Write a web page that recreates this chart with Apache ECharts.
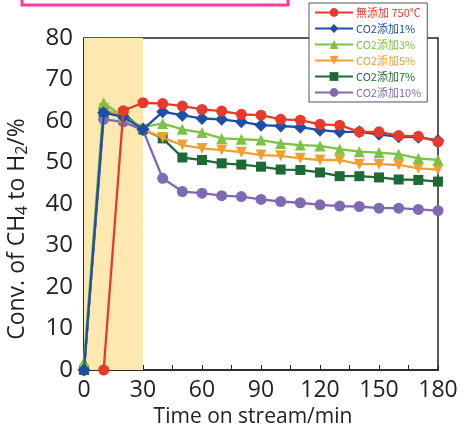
<!DOCTYPE html>
<html><head><meta charset="utf-8">
<script src="https://cdn.jsdelivr.net/npm/echarts@6/dist/echarts.min.js"></script>
<style>html,body{margin:0;padding:0;background:#fff}#c{width:464px;height:425px}</style>
</head><body><div id="c"></div>
<script>
const times = [0,10,20,30,40,50,60,70,80,90,100,110,120,130,140,150,160,170,180];
const seriesNames = ['無添加 750℃','CO2添加1%','CO2添加3%','CO2添加5%','CO2添加7%','CO2添加10%'];
const noAdd750 = [null,0,62.5,64.4,64.2,63.6,62.8,62.4,61.6,61.4,60.4,60.2,59.2,59.0,57.4,57.4,56.5,56.3,55.0];
const co2_1 = [0,62,61,58,62.2,61.4,60.6,60.4,59.8,59.0,58.8,58.5,57.8,57.4,57.4,56.8,56.2,56.1,55.3];
const co2_3 = [2,64.4,61,58.5,59.4,58,57.2,55.8,55.6,55.4,54.6,54.2,54.0,53.2,52.6,52.4,52.0,51.0,50.6];
const co2_5 = [0,63,61,58,56,54.2,53.4,53,52.5,51.8,51.6,51.0,50.6,50.6,49.6,49.6,49.4,48.6,48.3];
const co2_7 = [0,62.2,61.8,58,55.8,51.2,50.6,49.8,49.5,49.0,48.3,48.2,47.6,46.7,46.7,46.4,45.9,45.8,45.4];
const co2_10 = [0,60.4,59.8,57.8,46.2,43.0,42.6,42.0,41.8,41.1,40.6,40.3,39.8,39.5,39.4,39.0,39.0,38.7,38.4];
const shadeRange = [0,30];
const xTicks = [0,30,60,90,120,150,180];
const yTicks = [0,10,20,30,40,50,60,70,80];

const colors = ['#e63a2c','#1d4fa6','#7cc243','#f0a032','#1d6a36','#7d6ab3'];
const symbols = ['circle','diamond','triangle','path://M0,0 L10,0 L5,10 Z','rect','circle'];
const allData = [noAdd750,co2_1,co2_3,co2_5,co2_7,co2_10];
const font = '"Open Sans", "Noto Sans", sans-serif';

const series = allData.map((d,i)=>({
  name: seriesNames[i], type:'line',
  data: times.map((t,j)=>[t,d[j]]),
  symbol: symbols[i], symbolSize: i===1?13:(i===4?10:11),
  lineStyle:{color:colors[i],width:2.3},
  itemStyle:{color:colors[i]},
  z: 10-i
}));
series[0].markArea = {silent:true, itemStyle:{color:'#fde8b0'}, data:[[{xAxis:shadeRange[0]},{xAxis:shadeRange[1]}]]};
series[0].z = 12;

const chart = echarts.init(document.getElementById('c'));
chart.setOption({
  animation:false,
  grid:{left:84,right:26,top:38,bottom:55,show:true,borderColor:'#222',borderWidth:1.5,outerBoundsMode:'none',containLabel:false},
  legend:{
    orient:'vertical', left:309, top:3, width:128,
    backgroundColor:'#fff', borderColor:'#555', borderWidth:1, padding:[4,6,4,5],
    itemWidth:38, itemHeight:11, itemGap:5,
    data: seriesNames.map((n,i)=>({name:n, textStyle:{color:colors[i]}})),
    textStyle:{fontSize:11, fontFamily:'"Noto Sans CJK JP", sans-serif', padding:[0,0,0,-2]}
  },
  xAxis:{type:'value',min:0,max:180,interval:15,
    name:'Time on stream/min', nameLocation:'middle', nameGap:36,
    nameTextStyle:{fontSize:21,color:'#222',fontFamily:font,padding:[0,16,0,0]},
    axisLine:{lineStyle:{color:'#222',width:1.5}},
    axisTick:{inside:true,length:5,lineStyle:{color:'#222'}},
    splitLine:{show:false},
    axisLabel:{fontSize:23,color:'#222',fontFamily:font,margin:9,showMaxLabel:true,
      formatter:v=>xTicks.includes(v)?String(v):''}
  },
  yAxis:{type:'value',min:0,max:80,interval:5,
    name:'Conv. of CH{s|4} to H{s|2}/%', nameLocation:'middle', nameGap:54,
    nameTextStyle:{fontSize:23,color:'#222',fontFamily:font,padding:[0,50,0,0],
      rich:{s:{fontSize:16,verticalAlign:'bottom',padding:[9,0,0,0],fontFamily:font,color:'#222'}}},
    axisLine:{lineStyle:{color:'#222',width:1.5}},
    axisTick:{inside:true,length:5,lineStyle:{color:'#222'}},
    splitLine:{show:false},
    axisLabel:{fontSize:24,color:'#222',fontFamily:font,margin:11,
      formatter:v=>yTicks.includes(v)?String(v):''}
  },
  graphic:[{type:'rect',shape:{x:22,y:-6,width:266,height:11},style:{fill:'none',stroke:'#ff3a9c',lineWidth:3},z:100}],
  series
});
</script></body></html>
